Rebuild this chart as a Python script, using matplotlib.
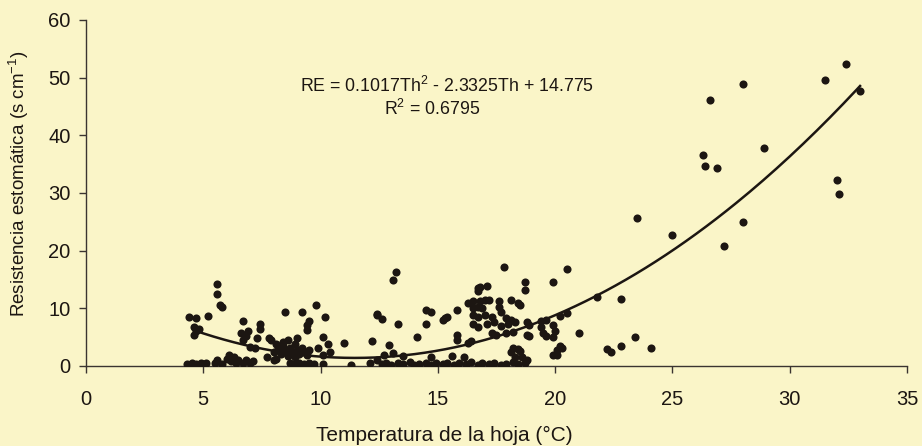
import matplotlib
matplotlib.use("Agg")
import matplotlib.pyplot as plt
import numpy as np

# leaf temperature (C) and stomatal resistance (s cm-1)
th = [4.4, 4.7, 5.2, 4.6, 4.8, 4.6, 4.7,
      4.3, 4.5, 4.7, 4.9, 5.0, 5.1,
      5.6, 5.6, 5.7, 5.8,
      5.5, 5.6, 5.8, 6.0, 6.1, 6.2, 6.3, 6.4, 6.5, 6.7, 6.8, 7.0, 7.1,
      6.7, 6.6, 6.9, 7.4, 7.4, 7.3, 7.8, 7.9, 6.7, 7.0, 7.2, 6.8,
      7.7, 8.0, 8.1,
      8.0, 8.2, 8.3, 8.4, 8.5, 8.6, 8.6, 8.7, 8.8, 8.9, 8.9, 9.0, 9.1, 9.2, 9.3, 9.4, 9.5, 8.4, 8.1, 9.0,
      8.5, 9.2, 9.8, 10.2, 9.5, 9.4, 9.4, 10.1, 10.3, 9.9, 10.4, 11.0, 10.1,
      8.7, 8.9, 9.1, 9.3, 9.5, 9.7, 10.1, 11.3, 12.1, 12.4,
      12.2, 12.4, 12.9,
      13.2, 13.1, 12.4, 12.6, 13.3, 14.5, 14.7, 14.5, 15.2, 15.4, 15.8, 15.3, 14.1, 15.8, 15.8, 16.4, 16.3,
      16.3, 17.8, 18.7, 18.7, 16.7, 16.8, 17.1, 16.7,
      16.5, 16.8, 17.0, 17.2, 17.6, 18.1, 18.4, 18.5,
      16.5, 16.7, 16.9, 17.6, 17.7,
      16.5, 16.7, 17.0, 17.3, 17.9, 18.1,
      16.5, 16.7, 17.1, 17.4, 17.7, 18.0, 18.3, 18.8, 19.4,
      17.3, 17.5, 17.9, 18.2, 18.8, 19.5,
      15.6, 16.1, 18.4, 18.6, 18.1, 18.5, 18.3, 18.8,
      12.7, 13.1, 13.5, 14.7, 18.2,
      12.6, 12.8, 13.0, 13.3, 13.5, 13.8, 14.0, 14.2, 14.5, 14.7, 14.9, 15.2, 15.4,
      15.7, 15.9, 16.2, 16.4, 16.7, 16.9, 17.2, 17.4, 17.7, 17.9, 18.2, 18.4, 18.7,
      18.9, 19.4, 19.9, 20.0, 19.6, 19.9, 18.9, 21.0, 20.2, 20.3, 20.1, 19.9, 20.1,
      20.5, 20.2, 19.6, 20.5, 19.9, 21.8,
      22.8, 22.2, 22.4, 22.8, 23.4, 24.1,
      23.5, 25.0, 28.0, 27.2, 26.3, 26.4, 26.9, 26.6, 28.0, 28.9,
      32.0, 32.1, 31.5, 32.4, 33.0]
re = [8.5, 8.3, 8.7, 6.8, 6.4, 5.4, 6.0,
      0.4, 0.5, 0.3, 0.6, 0.4, 0.5,
      14.2, 12.5, 10.6, 10.3,
      0.5, 1.0, 0.4, 1.2, 1.9, 0.8, 1.5, 0.5, 1.0, 0.6, 1.1, 0.5, 0.8,
      7.8, 5.7, 6.1, 7.3, 6.4, 4.9, 4.9, 4.5, 4.5, 3.3, 3.1, 5.2,
      1.6, 1.0, 1.2,
      2.4, 3.0, 2.0, 3.5, 2.6, 4.5, 1.8, 3.1, 2.3, 3.8, 1.6, 2.8, 2.1, 3.2, 2.5, 1.9, 2.8, 4.1, 3.8, 4.9,
      9.4, 9.4, 10.6, 8.5, 7.8, 7.1, 6.2, 5.0, 3.8, 3.1, 2.4, 4.0, 1.9,
      0.5, 0.3, 0.6, 0.4, 0.5, 0.3, 0.3, 0.2, 0.5, 1.0,
      4.3, 8.8, 3.6,
      16.3, 14.9, 9.0, 8.1, 7.3, 9.7, 9.4, 7.3, 8.0, 8.5, 9.7, 8.3, 5.0, 5.4, 4.5, 4.3, 4.0,
      10.9, 17.2, 14.6, 13.2, 13.5, 13.7, 13.9, 13.0,
      11.2, 11.2, 11.4, 11.4, 11.2, 11.4, 11.0, 10.6,
      10.0, 10.3, 10.0, 10.3, 9.4,
      8.8, 8.5, 8.8, 8.5, 8.3, 8.0,
      7.3, 6.8, 7.3, 7.6, 7.0, 7.3, 7.6, 7.6, 7.8,
      5.7, 5.4, 5.7, 5.9, 5.4, 5.7,
      1.7, 1.6, 2.9, 1.6, 2.4, 2.6, 1.6, 1.0,
      1.9, 2.2, 1.7, 1.6, 3.1,
      0.3, 0.6, 0.2, 0.5, 0.3, 0.7, 0.2, 0.4, 0.6, 0.2, 0.5, 0.3, 0.6,
      0.2, 0.5, 0.3, 0.7, 0.2, 0.5, 0.3, 0.6, 0.2, 0.4, 0.7, 0.3, 0.5,
      7.1, 6.8, 7.1, 6.1, 5.2, 5.0, 5.2, 5.7, 3.5, 3.1, 2.8, 1.9, 1.9,
      9.2, 8.7, 8.0, 16.8, 14.5, 12.0,
      11.6, 2.9, 2.4, 3.5, 5.0, 3.1,
      25.6, 22.7, 25.0, 20.8, 36.6, 34.7, 34.3, 46.1, 48.9, 37.8,
      32.2, 29.8, 49.6, 52.3, 47.7]

# quadratic trendline coefficients printed on the chart
coef = [0.1017, -2.3325, 14.775]

xticks = [0, 5, 10, 15, 20, 25, 30, 35]
yticks = [0, 10, 20, 30, 40, 50, 60]

bg = "#FAF5C8"
ink = "#1c1612"

plt.rcParams["font.family"] = ["Liberation Sans", "DejaVu Sans"]
plt.rcParams["mathtext.fontset"] = "custom"
plt.rcParams["mathtext.rm"] = "Liberation Sans"
plt.rcParams["mathtext.it"] = "Liberation Sans"

fig = plt.figure(figsize=(9.22, 4.46), dpi=100, facecolor=bg)
ax = fig.add_axes([0.0933, 0.1794, 0.8904, 0.7758])
ax.set_facecolor(bg)

ax.scatter(th, re, s=34, color=ink, zorder=3, linewidths=0)

xf = np.linspace(4.6, 33.0, 200)
ax.plot(xf, np.polyval(coef, xf), color=ink, lw=1.8, zorder=4)

ax.set_xlim(0, 35)
ax.set_ylim(0, 60)
ax.set_xticks(xticks)
ax.set_yticks(yticks)
for s in ["top", "right"]:
    ax.spines[s].set_visible(False)
for s in ["left", "bottom"]:
    ax.spines[s].set_color("#3a3430")
    ax.spines[s].set_linewidth(1.0)
ax.tick_params(axis="x", length=5, width=1, color="#3a3430", pad=12, labelsize=14.5, labelcolor=ink)
ax.tick_params(axis="y", length=5, width=1, color="#3a3430", pad=6, labelsize=14.5, labelcolor=ink)

ax.set_xlabel("Temperatura de la hoja (°C)", fontsize=15, color=ink, va="center")
ax.xaxis.set_label_coords(0.437, -0.2)
ax.set_ylabel("Resistencia estomática (s cm$^{-1}$)", fontsize=13.5, color=ink, va="center")
ax.yaxis.set_label_coords(-0.082, 0.526)

ax.text(15.4, 48.6, "RE = 0.1017Th$^2$ - 2.3325Th + 14.775", fontsize=12.8, color=ink,
        ha="center", va="center")
ax.text(14.75, 44.6, "R$^2$ = 0.6795", fontsize=12.8, color=ink, ha="center", va="center")

fig.savefig("out.png", dpi=100, facecolor=bg)
